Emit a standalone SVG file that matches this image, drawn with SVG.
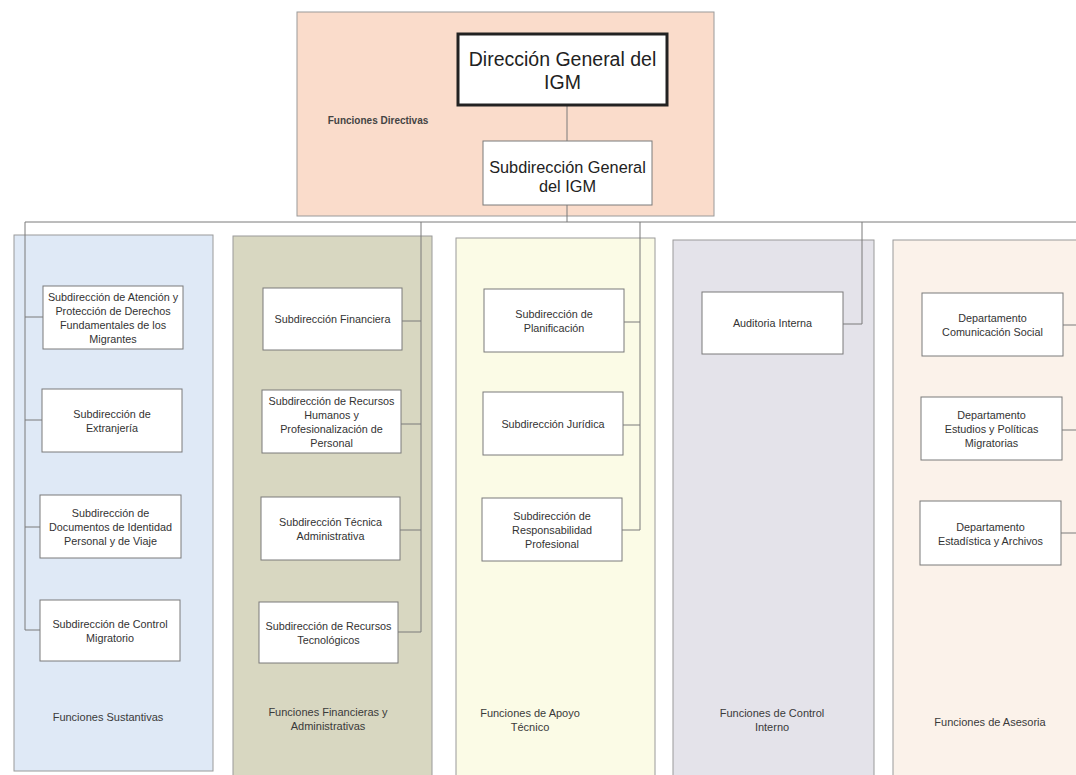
<svg xmlns="http://www.w3.org/2000/svg" width="1076" height="775" viewBox="0 0 1076 775">
<style>
.bg{stroke:#9a9a9a;stroke-width:1}
.box{fill:#ffffff;stroke:#7a7a7a;stroke-width:1}
.t{font-family:"Liberation Sans",Arial,sans-serif;font-size:10.8px;fill:#333;text-anchor:middle}
.lbl{font-family:"Liberation Sans",Arial,sans-serif;font-size:11px;fill:#3a3a3a;text-anchor:middle}
.big{font-family:"Liberation Sans",Arial,sans-serif;fill:#222;text-anchor:middle}
.c{stroke:#7a7a7a;stroke-width:1;fill:none}
</style>
<rect width="1076" height="775" fill="#ffffff"/>
<g id="areas">
<rect class="bg" x="297" y="12" width="417" height="204" fill="#fadccb"/>
<rect class="bg" x="14" y="235" width="199" height="536" fill="#dfe9f6"/>
<rect class="bg" x="233" y="236" width="199" height="540" fill="#d8d7c1"/>
<rect class="bg" x="456" y="238" width="199" height="538" fill="#fbfbe6"/>
<rect class="bg" x="673" y="240" width="201" height="536" fill="#e4e3ea"/>
<rect class="bg" x="893" y="240" width="184" height="536" fill="#fbf2ea"/>
</g>
<g id="connectors">
<line class="c" x1="567" y1="105" x2="567" y2="141"/>
<line class="c" x1="567" y1="205" x2="567" y2="222"/>
<line class="c" x1="25" y1="222" x2="1076" y2="222"/>
<polyline class="c" points="25,222 25,630 40,630"/>
<line class="c" x1="25" y1="317" x2="43" y2="317"/>
<line class="c" x1="25" y1="420" x2="42" y2="420"/>
<line class="c" x1="25" y1="527" x2="40" y2="527"/>
<polyline class="c" points="421,222 421,632 398,632"/>
<line class="c" x1="402" y1="321" x2="421" y2="321"/>
<line class="c" x1="401" y1="424" x2="421" y2="424"/>
<line class="c" x1="400" y1="530" x2="421" y2="530"/>
<polyline class="c" points="640,222 640,530 622,530"/>
<line class="c" x1="624" y1="322" x2="640" y2="322"/>
<line class="c" x1="623" y1="425" x2="640" y2="425"/>
<polyline class="c" points="862,222 862,324 843,324"/>
<line class="c" x1="1063" y1="325" x2="1076" y2="325"/>
<line class="c" x1="1062" y1="430" x2="1076" y2="430"/>
<line class="c" x1="1061" y1="533" x2="1076" y2="533"/>
</g>
<g id="labels">
<text x="378" y="124" style="font-family:'Liberation Sans',Arial,sans-serif;font-size:10px;font-weight:bold;fill:#444;text-anchor:middle">Funciones Directivas</text>
<text class="lbl" x="108" y="721">Funciones Sustantivas</text>
<text class="lbl" x="328" y="716">Funciones Financieras y</text>
<text class="lbl" x="328" y="730">Administrativas</text>
<text class="lbl" x="530" y="717">Funciones de Apoyo</text>
<text class="lbl" x="530" y="731">Técnico</text>
<text class="lbl" x="772" y="717">Funciones de Control</text>
<text class="lbl" x="772" y="731">Interno</text>
<text class="lbl" x="990" y="726">Funciones de Asesoria</text>
</g>
<g id="dir-general">
<rect x="458" y="34" width="209" height="71" fill="#fff" stroke="#222" stroke-width="3"/>
<text class="big" x="562.5" y="66" font-size="19.5">Dirección General del</text>
<text class="big" x="562.5" y="89" font-size="19.5">IGM</text>
</g>
<g id="subdir-general">
<rect class="box" x="483" y="141" width="169" height="64"/>
<text class="big" x="567.5" y="173" font-size="16.3">Subdirección General</text>
<text class="big" x="567.5" y="192" font-size="16.3">del IGM</text>
</g>
<g id="sub-atencion">
<rect class="box" x="43" y="286" width="140" height="63"/>
<text class="t" x="113" y="301">Subdirección de Atención y</text>
<text class="t" x="113" y="315">Protección de Derechos</text>
<text class="t" x="113" y="329">Fundamentales de los</text>
<text class="t" x="113" y="343">Migrantes</text>
</g>
<g id="sub-extranjeria">
<rect class="box" x="42" y="389" width="140" height="63"/>
<text class="t" x="112" y="418">Subdirección de</text>
<text class="t" x="112" y="432">Extranjería</text>
</g>
<g id="sub-documentos">
<rect class="box" x="40" y="495" width="141" height="63"/>
<text class="t" x="110.5" y="517">Subdirección de</text>
<text class="t" x="110.5" y="531">Documentos de Identidad</text>
<text class="t" x="110.5" y="545">Personal y de Viaje</text>
</g>
<g id="sub-control-migratorio">
<rect class="box" x="40" y="600" width="140" height="61"/>
<text class="t" x="110" y="628">Subdirección de Control</text>
<text class="t" x="110" y="642">Migratorio</text>
</g>
<g id="sub-financiera">
<rect class="box" x="263" y="288" width="139" height="62"/>
<text class="t" x="332.5" y="323">Subdirección Financiera</text>
</g>
<g id="sub-rrhh">
<rect class="box" x="262" y="390" width="139" height="63"/>
<text class="t" x="331.5" y="405">Subdirección de Recursos</text>
<text class="t" x="331.5" y="419">Humanos y</text>
<text class="t" x="331.5" y="433">Profesionalización de</text>
<text class="t" x="331.5" y="447">Personal</text>
</g>
<g id="sub-tecnica">
<rect class="box" x="261" y="497" width="139" height="63"/>
<text class="t" x="330.5" y="526">Subdirección Técnica</text>
<text class="t" x="330.5" y="540">Administrativa</text>
</g>
<g id="sub-tecnologicos">
<rect class="box" x="259" y="602" width="139" height="61"/>
<text class="t" x="328.5" y="630">Subdirección de Recursos</text>
<text class="t" x="328.5" y="644">Tecnológicos</text>
</g>
<g id="sub-planificacion">
<rect class="box" x="484" y="289" width="140" height="63"/>
<text class="t" x="554" y="318">Subdirección de</text>
<text class="t" x="554" y="332">Planificación</text>
</g>
<g id="sub-juridica">
<rect class="box" x="483" y="392" width="140" height="63"/>
<text class="t" x="553" y="428">Subdirección Jurídica</text>
</g>
<g id="sub-responsabilidad">
<rect class="box" x="482" y="498" width="140" height="63"/>
<text class="t" x="552" y="520">Subdirección de</text>
<text class="t" x="552" y="534">Responsabilidad</text>
<text class="t" x="552" y="548">Profesional</text>
</g>
<g id="auditoria">
<rect class="box" x="702" y="292" width="141" height="62"/>
<text class="t" x="772.5" y="327">Auditoria Interna</text>
</g>
<g id="dep-comunicacion">
<rect class="box" x="922" y="293" width="141" height="63"/>
<text class="t" x="992.5" y="322">Departamento</text>
<text class="t" x="992.5" y="336">Comunicación Social</text>
</g>
<g id="dep-estudios">
<rect class="box" x="921" y="397" width="141" height="63"/>
<text class="t" x="991.5" y="419">Departamento</text>
<text class="t" x="991.5" y="433">Estudios y Políticas</text>
<text class="t" x="991.5" y="447">Migratorias</text>
</g>
<g id="dep-estadistica">
<rect class="box" x="920" y="501" width="141" height="64"/>
<text class="t" x="990.5" y="531">Departamento</text>
<text class="t" x="990.5" y="545">Estadística y Archivos</text>
</g>
</svg>
